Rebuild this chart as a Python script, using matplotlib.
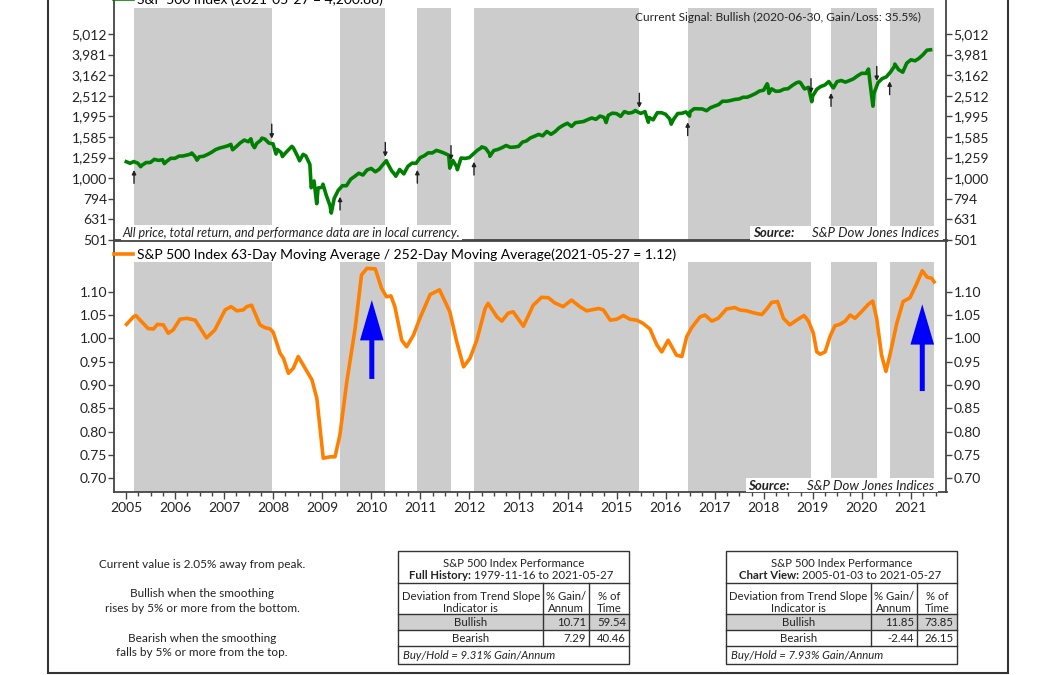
import numpy as np
import pandas as pd
import matplotlib
matplotlib.use('Agg')
import matplotlib.pyplot as plt
from matplotlib.patches import Rectangle
from matplotlib.ticker import NullLocator, MultipleLocator

plt.rcParams['font.family'] = ['Lato', 'DejaVu Sans']

# S&P 500 month-end closes, 2005-01 .. 2021-04
monthly_close = [
    1181, 1204, 1181, 1156, 1191, 1191, 1234, 1220, 1229, 1207, 1249, 1248,  # 2005
    1280, 1281, 1295, 1311, 1270, 1270, 1277, 1304, 1336, 1378, 1401, 1418,  # 2006
    1438, 1407, 1421, 1482, 1531, 1503, 1455, 1474, 1527, 1549, 1481, 1468,  # 2007
    1379, 1331, 1323, 1386, 1400, 1280, 1267, 1283, 1166, 969, 896, 903,     # 2008
    826, 735, 798, 873, 919, 919, 987, 1021, 1057, 1036, 1096, 1115,         # 2009
    1074, 1104, 1169, 1187, 1089, 1031, 1102, 1049, 1141, 1183, 1181, 1258,  # 2010
    1286, 1327, 1326, 1364, 1345, 1321, 1292, 1219, 1131, 1253, 1247, 1258,  # 2011
    1312, 1366, 1408, 1398, 1310, 1362, 1379, 1407, 1441, 1412, 1416, 1426,  # 2012
    1498, 1515, 1569, 1598, 1631, 1606, 1686, 1633, 1682, 1757, 1806, 1848,  # 2013
    1783, 1859, 1872, 1884, 1924, 1960, 1931, 2003, 1972, 2018, 2068, 2059,  # 2014
    1995, 2105, 2068, 2086, 2107, 2063, 2104, 1972, 1920, 2079, 2080, 2044,  # 2015
    1940, 1932, 2060, 2065, 2097, 2099, 2174, 2171, 2168, 2126, 2199, 2239,  # 2016
    2279, 2364, 2363, 2384, 2412, 2423, 2470, 2472, 2519, 2575, 2648, 2674,  # 2017
    2824, 2714, 2641, 2648, 2705, 2718, 2816, 2902, 2914, 2712, 2760, 2507,  # 2018
    2704, 2784, 2834, 2946, 2752, 2942, 2980, 2926, 2977, 3038, 3141, 3231,  # 2019
    3226, 2954, 2585, 2912, 3044, 3100, 3271, 3500, 3363, 3270, 3622, 3756,  # 2020
    3714, 3811, 3973, 4181,                                                  # 2021
]
# intra-month swings
swing_dates = ['2005-01-03', '2005-04-20', '2005-10-13', '2006-05-05', '2006-06-13',
               '2007-02-20', '2007-03-05', '2007-07-19', '2007-08-15', '2007-10-09',
               '2008-01-22', '2008-03-10', '2008-05-19', '2008-07-15', '2008-08-11',
               '2008-10-10', '2008-11-20', '2009-01-06', '2009-03-09', '2010-04-23',
               '2010-07-02', '2011-04-29', '2011-08-08', '2011-10-03', '2012-04-02',
               '2012-06-01', '2014-10-15', '2015-05-21', '2015-08-25', '2016-02-11',
               '2016-06-27', '2018-01-26', '2018-02-08', '2018-09-20', '2018-12-24',
               '2019-06-03', '2020-02-19', '2020-03-23', '2020-09-02', '2021-05-27']
swing_vals = [1202, 1137, 1177, 1325, 1223, 1459, 1374, 1553, 1406, 1565,
              1310, 1273, 1427, 1215, 1305, 899, 752, 935, 677, 1217,
              1022, 1364, 1119, 1099, 1419, 1278, 1862, 2131, 1868, 1829,
              2001, 2873, 2581, 2931, 2351, 2744, 3386, 2237, 3580, 4201]

# 63d/252d moving average ratio (decimal year, value)
ratio_t = [2005.01, 2005.15, 2005.20, 2005.29, 2005.45, 2005.56, 2005.64, 2005.76, 2005.86, 2005.96,
           2006.10, 2006.24, 2006.41, 2006.64, 2006.81, 2007.02, 2007.14, 2007.26, 2007.39, 2007.46,
           2007.56, 2007.73, 2007.83, 2007.94, 2008.00, 2008.14, 2008.21, 2008.31, 2008.41, 2008.51,
           2008.61, 2008.79, 2008.89, 2009.02, 2009.16, 2009.26, 2009.36, 2009.50, 2009.67, 2009.80,
           2009.91, 2010.08, 2010.21, 2010.31, 2010.40, 2010.48, 2010.62, 2010.72, 2010.86, 2010.99,
           2011.20, 2011.39, 2011.60, 2011.74, 2011.88, 2012.01, 2012.15, 2012.32, 2012.38, 2012.56,
           2012.66, 2012.79, 2012.89, 2013.10, 2013.30, 2013.47, 2013.61, 2013.74, 2013.91, 2014.08,
           2014.25, 2014.39, 2014.49, 2014.63, 2014.73, 2014.87, 2015.00, 2015.14, 2015.27, 2015.41,
           2015.54, 2015.68, 2015.82, 2015.92, 2016.05, 2016.22, 2016.33, 2016.43, 2016.53, 2016.70,
           2016.80, 2016.94, 2017.07, 2017.24, 2017.41, 2017.51, 2017.65, 2017.82, 2017.96, 2018.06,
           2018.16, 2018.28, 2018.40, 2018.53, 2018.67, 2018.82, 2018.91, 2019.01, 2019.08, 2019.15,
           2019.25, 2019.35, 2019.45, 2019.55, 2019.66, 2019.76, 2019.86, 2019.99, 2020.13, 2020.22,
           2020.30, 2020.40, 2020.49, 2020.57, 2020.71, 2020.84, 2020.98, 2021.12, 2021.23, 2021.33,
           2021.42, 2021.47]
ratio_v = [1.030, 1.046, 1.049, 1.039, 1.021, 1.020, 1.030, 1.029, 1.011, 1.018,
           1.041, 1.043, 1.039, 1.001, 1.018, 1.061, 1.068, 1.059, 1.061, 1.068,
           1.071, 1.029, 1.023, 1.020, 1.013, 0.968, 0.957, 0.925, 0.936, 0.961,
           0.943, 0.911, 0.871, 0.743, 0.746, 0.746, 0.793, 0.907, 1.021, 1.136,
           1.150, 1.149, 1.107, 1.089, 1.091, 1.068, 0.996, 0.982, 1.007, 1.043,
           1.094, 1.104, 1.057, 0.993, 0.939, 0.957, 0.996, 1.064, 1.075, 1.046,
           1.037, 1.054, 1.057, 1.026, 1.071, 1.088, 1.087, 1.076, 1.068, 1.082,
           1.068, 1.059, 1.061, 1.064, 1.061, 1.039, 1.041, 1.049, 1.041, 1.039,
           1.032, 1.020, 0.986, 0.971, 0.996, 0.964, 0.961, 1.004, 1.023, 1.046,
           1.050, 1.037, 1.043, 1.063, 1.066, 1.061, 1.059, 1.054, 1.051, 1.063,
           1.077, 1.079, 1.043, 1.029, 1.039, 1.049, 1.037, 1.011, 0.971, 0.966,
           0.971, 1.004, 1.027, 1.030, 1.037, 1.050, 1.043, 1.057, 1.073, 1.080,
           1.043, 0.964, 0.929, 0.964, 1.032, 1.079, 1.087, 1.118, 1.145, 1.131,
           1.129, 1.121]

# signal dates (decimal years)
bull_start = [2005.163, 2009.362, 2010.938, 2012.093, 2016.449, 2019.370, 2020.565]
bull_end = [2007.970, 2010.285, 2011.624, 2015.463, 2018.962, 2020.302, 2021.47]
bear_start = bull_end[:-1]

# blue arrows on the lower panel
blue_x = [2010.01, 2021.23]
blue_tail = [0.913, 0.887]
blue_tip = [1.082, 1.073]

price_ticks = [501, 631, 794, 1000, 1259, 1585, 1995, 2512, 3162, 3981, 5012]
price_labels = ['501', '631', '794', '1,000', '1,259', '1,585', '1,995', '2,512', '3,162', '3,981', '5,012']
ratio_ticks = [0.70, 0.75, 0.80, 0.85, 0.90, 0.95, 1.00, 1.05, 1.10]
years = list(range(2005, 2022))

# table values
tbl_titles = ['Full History:', 'Chart View:']
tbl_ranges = ['1979-11-16 to 2021-05-27', '2005-01-03 to 2021-05-27']
tbl_gain = [['10.71', '7.29'], ['11.85', '-2.44']]
tbl_time = [['59.54', '40.46'], ['73.85', '26.15']]
tbl_buyhold = ['9.31%', '7.93%']

# ---- build price series
mdates = pd.date_range('2005-01-31', periods=len(monthly_close), freq='ME')
allp = pd.Series(monthly_close, index=mdates)
allp = pd.concat([allp, pd.Series(swing_vals, index=pd.to_datetime(swing_dates))]).sort_index()
price_t = np.array(allp.index.year + (allp.index.dayofyear - 1) / 365.25)
price_v = allp.values.astype(float)

W, H = 1056, 675
fig = plt.figure(figsize=(W / 100, H / 100), dpi=100)


def fbox(x0, y0, x1, y1):
    return [x0 / W, 1 - y1 / H, (x1 - x0) / W, (y1 - y0) / H]


AX_L, AX_R = 114, 946.5
xl = (2004.755, 2021.724)
dark = '#222222'
spc = '#444444'
shade = '#cccccc'

ax1 = fig.add_axes(fbox(AX_L, -13, AX_R, 240))
ax2 = fig.add_axes(fbox(AX_L, 241, AX_R, 492))

for ax in (ax1, ax2):
    for s in ax.spines.values():
        s.set_color(spc)
        s.set_linewidth(1.3)
    for a, b in zip(bull_start, bull_end):
        ax.axvspan(a, b, ymin=0, ymax=0.916, color=shade, lw=0, zorder=0)
    ax.set_xlim(*xl)
    ax.tick_params(axis='y', which='both', left=True, right=True, labelleft=True, labelright=True,
                   direction='out', length=4, width=1, color=spc, pad=1, labelsize=10, labelcolor=dark)


def fx(px):
    return (px - AX_L) / (AX_R - AX_L)


def source_note(ax, box_x0, box_x1, box_h, bold_x, right_x, yc):
    ax.add_patch(Rectangle((fx(box_x0), 0), fx(box_x1) - fx(box_x0), box_h, transform=ax.transAxes,
                           fc='white', ec='none', zorder=5))
    ax.text(fx(bold_x), yc, 'Source:', transform=ax.transAxes, ha='left', va='center', fontsize=9.5,
            style='italic', weight='bold', color=dark, zorder=6)
    ax.text(fx(right_x), yc, 'S&P Dow Jones Indices', transform=ax.transAxes, ha='right', va='center',
            fontsize=9.5, style='italic', color=dark, zorder=6)


# top panel
ax1.plot(price_t, price_v, color='#008000', lw=2.6, label='S&P 500 Index (2021-05-27 = 4,200.88)', zorder=3)
ax1.set_yscale('log')
ax1.set_ylim(10 ** 2.7, 10 ** (3.7 + 47 / 206))
ax1.set_yticks(price_ticks)
ax1.set_yticklabels(price_labels)
ax1.yaxis.set_minor_locator(NullLocator())
ax1.tick_params(axis='x', which='both', bottom=False, labelbottom=False)
ax1.legend(loc='center left', bbox_to_anchor=(0.0, 0.949), frameon=False, fontsize=10,
           handlelength=1.4, handletextpad=0.25, borderpad=0, borderaxespad=0)

for t in bull_start:
    p = np.interp(t, price_t, price_v)
    ax1.annotate('', xy=(t, p), xytext=(0, -15.6), textcoords='offset points',
                 arrowprops=dict(arrowstyle='-|>', color=dark, lw=1, shrinkA=0, shrinkB=6,
                                 mutation_scale=6), zorder=4)
for t in bear_start:
    p = np.interp(t, price_t, price_v)
    ax1.annotate('', xy=(t, p), xytext=(0, 14), textcoords='offset points',
                 arrowprops=dict(arrowstyle='-|>', color=dark, lw=1, shrinkA=0, shrinkB=3.5,
                                 mutation_scale=6), zorder=4)

ax1.text(0.969, 0.880, 'Current Signal: Bullish (2020-06-30, Gain/Loss: 35.5%)', transform=ax1.transAxes,
         ha='right', va='center', fontsize=8.6, color=dark)
ax1.text(0.0105, 0.026, 'All price, total return, and performance data are in local currency.',
         transform=ax1.transAxes, ha='left', va='center', fontsize=9, style='italic', color=dark,
         bbox=dict(facecolor='white', edgecolor='none', pad=1.5), zorder=5)
source_note(ax1, 750, 943, 14 / 253, 753, 939, 0.027)

# bottom panel
ax2.plot(ratio_t, ratio_v, color='#ff8000', lw=2.6,
         label='S&P 500 Index 63-Day Moving Average / 252-Day Moving Average(2021-05-27 = 1.12)', zorder=3)
ax2.set_ylim(0.6706, 1.2087)
ax2.set_yticks(ratio_ticks)
ax2.set_yticklabels(['%.2f' % v for v in ratio_ticks])
ax2.set_xticks(years)
ax2.set_xticklabels([str(y) for y in years])
ax2.xaxis.set_minor_locator(MultipleLocator(0.25))
ax2.tick_params(axis='x', which='major', direction='out', length=5, width=1, color=spc,
                labelsize=10, labelcolor=dark, pad=2)
ax2.tick_params(axis='x', which='minor', direction='out', length=3, width=1, color=spc)
ax2.legend(loc='center left', bbox_to_anchor=(0.0, 0.944), frameon=False, fontsize=10,
           handlelength=1.4, handletextpad=0.25, borderpad=0, borderaxespad=0)
for x, a, b in zip(blue_x, blue_tail, blue_tip):
    ax2.annotate('', xy=(x, b), xytext=(x, a),
                 arrowprops=dict(facecolor='#0000ff', edgecolor='none', width=3.6,
                                 headwidth=17, headlength=29, shrink=0), zorder=4)
source_note(ax2, 746, 938, 14.5 / 251, 748.5, 934.5, 0.025)

# overlay in pixel coordinates for frame, notes and tables
fa = fig.add_axes([0, 0, 1, 1], zorder=-1)
fa.set_xlim(0, W)
fa.set_ylim(H, 0)
fa.axis('off')
fa.add_patch(Rectangle((48, -10), 960, 683, fill=False, ec='#333333', lw=1.5))

notes = [('Current value is 2.05% away from peak.', 564),
         ('Bullish when the smoothing', 593.3), ('rises by 5% or more from the bottom.', 608.3),
         ('Bearish when the smoothing', 638.3), ('falls by 5% or more from the top.', 652.7)]
for s, y in notes:
    fa.text(202, y, s, ha='center', va='center', fontsize=8.5, color=dark)


def draw_table(x0, c1, c2, x1, k, bold_right):
    lc = '#333333'
    rows = [551, 582.7, 614, 630, 646, 664]
    fa.add_patch(Rectangle((x0, rows[2]), x1 - x0, rows[3] - rows[2], fc='#d0d0d0', ec='none'))
    fa.add_patch(Rectangle((x0, rows[0]), x1 - x0, rows[5] - rows[0], fill=False, ec=lc, lw=1))
    for y in rows[1:5]:
        fa.plot([x0, x1], [y, y], color=lc, lw=1)
    for c in (c1, c2):
        fa.plot([c, c], [rows[1], rows[4]], color=lc, lw=1)
    fs = 8.2
    fa.text((x0 + x1) / 2, 563.3, 'S&P 500 Index Performance', ha='center', va='center', fontsize=fs, color=dark)
    fa.text(bold_right, 575.7, tbl_titles[k], ha='right', va='center', fontsize=fs, color=dark, weight='bold')
    fa.text(bold_right + 3, 575.7, tbl_ranges[k], ha='left', va='center', fontsize=fs, color=dark)
    m0 = (x0 + c1) / 2
    m1 = (c1 + c2) / 2
    m2 = (c2 + x1) / 2
    fa.text(m0, 596, 'Deviation from Trend Slope', ha='center', va='center', fontsize=fs, color=dark)
    fa.text(m0, 608.3, 'Indicator is', ha='center', va='center', fontsize=fs, color=dark)
    fa.text(m1, 596, '% Gain/', ha='center', va='center', fontsize=fs, color=dark)
    fa.text(m1, 608.3, 'Annum', ha='center', va='center', fontsize=fs, color=dark)
    fa.text(m2, 596, '% of', ha='center', va='center', fontsize=fs, color=dark)
    fa.text(m2, 608.3, 'Time', ha='center', va='center', fontsize=fs, color=dark)
    for i, (lab, y) in enumerate([('Bullish', 622.5), ('Bearish', 638.5)]):
        fa.text(m0, y, lab, ha='center', va='center', fontsize=fs, color=dark)
        fa.text(c2 - 3, y, tbl_gain[k][i], ha='right', va='center', fontsize=fs, color=dark)
        fa.text(x1 - 3.5, y, tbl_time[k][i], ha='right', va='center', fontsize=fs, color=dark)
    fa.text(x0 + 5, 655.5, 'Buy/Hold = %s Gain/Annum' % tbl_buyhold[k], ha='left', va='center',
            fontsize=fs, color=dark, style='italic')


draw_table(398.3, 543.3, 589, 629.3, 0, 470.7)
draw_table(725.7, 871, 917, 956.7, 1, 799.3)

fig.savefig('out.png', dpi=100)
